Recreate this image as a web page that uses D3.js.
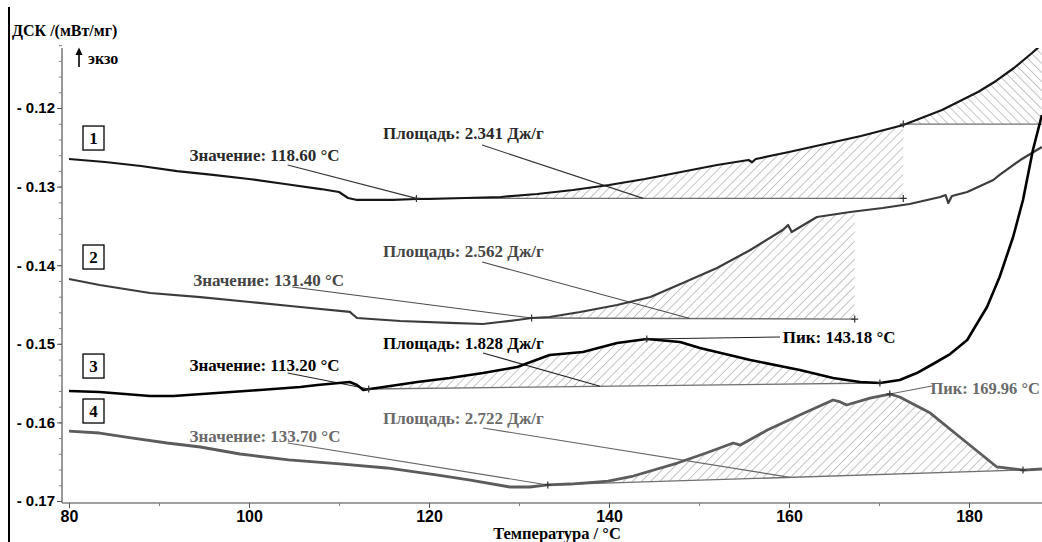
<!DOCTYPE html>
<html>
<head>
<meta charset="utf-8">
<script src="https://cdn.jsdelivr.net/npm/d3@7"></script>
<style>
body { margin: 0; background: #fff; }
svg { display: block; font-family: "Liberation Serif", "Times New Roman", serif; font-weight: bold; }
</style>
</head>
<body>
<svg id="chart" width="1042" height="542"></svg>
<script>
// ---- data (temperature °C, DSC mW/mg) ----
var curve1 = [[80,-0.12649],[84,-0.12687],[88,-0.12738],[92,-0.12802],[96,-0.12852],[100,-0.12903],
  [104,-0.12967],[108,-0.13031],[110,-0.13069],[111,-0.13145],[112,-0.13170],[116,-0.13170],
  [118.6,-0.13158],[120,-0.13158],[124,-0.13145],[128,-0.13132],[132,-0.13094],[136,-0.13043],
  [140,-0.12980],[144,-0.12903],[148,-0.12814],[152,-0.12725],[155.5,-0.12662],[155.9,-0.12690],
  [156.3,-0.12649],[160,-0.12560],[164,-0.12458],[168,-0.12356],[171,-0.12267],[172.7,-0.12216],
  [175,-0.12115],[177,-0.12025],[179,-0.11911],[181,-0.11796],[183,-0.11656],[185,-0.11491],
  [187,-0.11300],[188.1,-0.11190]];

var curve2 = [[80,-0.14176],[83.4,-0.14252],[89,-0.14354],[94.6,-0.14405],[100.1,-0.14468],
  [105.7,-0.14532],[111.2,-0.14595],[112,-0.14672],[116.8,-0.14710],[122.3,-0.14735],
  [126,-0.14748],[127.9,-0.14723],[129.8,-0.14697],[131.4,-0.14672],[133.4,-0.14659],
  [136.8,-0.14595],[140.9,-0.14506],[144.6,-0.14405],[148.2,-0.14227],[152,-0.14036],
  [155.7,-0.13807],[159.3,-0.13552],[159.9,-0.13489],[160.3,-0.13578],[163.1,-0.13387],
  [166.8,-0.13323],[170.4,-0.13272],[173.4,-0.13221],[176.8,-0.13132],[177.4,-0.13107],
  [177.7,-0.13209],[178.1,-0.13120],[179.8,-0.13069],[182.7,-0.12916],[183.4,-0.12852],
  [185.7,-0.12662],[188.1,-0.12496]];

var curve3 = [[80,-0.15601],[83.4,-0.15613],[89,-0.15664],[91.6,-0.15664],[96.4,-0.15626],
  [101.2,-0.15588],[105.7,-0.15550],[107.6,-0.15524],[111.2,-0.15486],[112,-0.15524],
  [112.7,-0.15588],[113.4,-0.15575],[114.2,-0.15562],[118.7,-0.15486],[122.3,-0.15435],
  [126,-0.15372],[129.8,-0.15295],[133.4,-0.15142],[137.1,-0.15104],[140.9,-0.14990],
  [144.2,-0.14939],[147.9,-0.14977],[150.1,-0.15053],[155.7,-0.15206],[161.2,-0.15333],
  [164.9,-0.15435],[167.9,-0.15486],[170.1,-0.15499],[172.3,-0.15461],[174.2,-0.15372],
  [176,-0.15257],[177.9,-0.15130],[179.8,-0.14952],[182,-0.14532],[183.4,-0.14150],
  [184.9,-0.13641],[186,-0.13170],[187.1,-0.12534],[188.1,-0.12089]];

var curve4 = [[80,-0.16110],[83.4,-0.16135],[87.1,-0.16199],[90.9,-0.16262],[94.6,-0.16313],
  [99,-0.16402],[104.4,-0.16478],[110.1,-0.16529],[115.3,-0.16580],[120.8,-0.16669],
  [124.6,-0.16733],[129,-0.16822],[131.2,-0.16822],[133.2,-0.16796],[135.7,-0.16784],
  [139.9,-0.16746],[142.7,-0.16682],[147.6,-0.16517],[150.8,-0.16389],[153.8,-0.16262],
  [154.6,-0.16288],[157.6,-0.16097],[161.2,-0.15906],[164.9,-0.15715],[165.7,-0.15740],
  [166.4,-0.15779],[169,-0.15690],[171.2,-0.15639],[172.3,-0.15677],[174,-0.15779],
  [175.7,-0.15881],[179.8,-0.16262],[183.1,-0.16567],[186,-0.16606],[188.1,-0.16593]];

// integration baselines: [start T, start value, end T, end value]
var base1  = [118.6, -0.13150, 172.7, -0.13150];
var base1b = [172.7, -0.12204, 188.1, -0.12204];
var base2  = [131.4, -0.14672, 167.3, -0.14685];
var base3  = [113.3, -0.15575, 170.1, -0.15499];
var base4  = [133.2, -0.16796, 186.0, -0.16606];

var peaks = [[144.2, -0.14939], [171.2, -0.15639]];

var curveNames = ["1", "2", "3", "4"];
var valueLabels = ["Значение: 118.60 °C", "Значение: 131.40 °C", "Значение: 113.20 °C", "Значение: 133.70 °C"];
var areaLabels = ["Площадь: 2.341 Дж/г", "Площадь: 2.562 Дж/г", "Площадь: 1.828 Дж/г", "Площадь: 2.722 Дж/г"];
var peakLabels = ["Пик: 143.18 °C", "Пик: 169.96 °C"];

var xTicks = [80, 100, 120, 140, 160, 180];
var xMinor = [90, 110, 130, 150, 170];
var yTicks = [-0.12, -0.13, -0.14, -0.15, -0.16, -0.17];

// ---- drawing ----
var svg = d3.select("#chart");
var x = d3.scaleLinear().domain([80, 180]).range([69, 969]);
var y = d3.scaleLinear().domain([-0.17, -0.12]).range([501, 108]);

var plotL = 62, plotR = 1042, plotT = 48, plotB = 503;

var defs = svg.append("defs");
defs.append("clipPath").attr("id", "plot")
  .append("rect").attr("x", plotL).attr("y", plotT).attr("width", plotR - plotL).attr("height", plotB - plotT);

function hatch(id, angle) {
  var p = defs.append("pattern").attr("id", id)
    .attr("patternUnits", "userSpaceOnUse")
    .attr("width", 6.4).attr("height", 10)
    .attr("patternTransform", "rotate(" + angle + ")");
  p.append("line").attr("x1", 0).attr("y1", 0).attr("x2", 0).attr("y2", 10)
    .attr("stroke", "#959595").attr("stroke-width", 1.1);
}
hatch("fwd", 45);
hatch("back", -45);

// left frame line
svg.append("line").attr("x1", 9).attr("x2", 9).attr("y1", 7).attr("y2", 542)
  .attr("stroke", "#000").attr("stroke-width", 2);

var plot = svg.append("g").attr("clip-path", "url(#plot)");

function hatchArea(curve, b, pat, k) {
  var pts = curve.filter(function (d, i) {
    var next = curve[i + 1] ? curve[i + 1][0] : Infinity;
    var prev = curve[i - 1] ? curve[i - 1][0] : -Infinity;
    return next >= b[0] && prev <= b[2];
  });
  pts = pts.concat([[b[2], b[3]], [b[0], b[1]]]);
  defs.append("clipPath").attr("id", "hc" + k)
    .append("rect").attr("x", x(b[0])).attr("y", 0).attr("width", x(b[2]) - x(b[0])).attr("height", 542);
  plot.append("g").attr("clip-path", "url(#hc" + k + ")")
    .append("path")
    .attr("d", "M" + pts.map(function (d) { return x(d[0]) + "," + y(d[1]); }).join("L") + "Z")
    .attr("fill", "url(#" + pat + ")");
}
hatchArea(curve1, base1, "fwd", 1);
hatchArea(curve1, base1b, "back", 2);
hatchArea(curve2, base2, "fwd", 3);
hatchArea(curve3, base3, "fwd", 4);
hatchArea(curve4, base4, "fwd", 5);

// baselines
[base1, base1b, base2, base3, base4].forEach(function (b) {
  plot.append("line")
    .attr("x1", x(b[0])).attr("y1", y(b[1])).attr("x2", x(b[2])).attr("y2", y(b[3]))
    .attr("stroke", "#707070").attr("stroke-width", 1.3);
});

// leader lines: [fromT, fromV, toT, toV, colour]
var leaders = [
  [104.3, -0.12725, base1[0], base1[1], "#333"],
  [125.9, -0.12471, 143.8, base1[1], "#333"],
  [104.8, -0.14277, base2[0], base2[1], "#4a4a4a"],
  [125.9, -0.13959, 149.0, -0.14678, "#4a4a4a"],
  [104.3, -0.15372, base3[0], base3[1], "#222"],
  [126.0, -0.15117, 139.0, -0.15540, "#222"],
  [104.3, -0.16262, base4[0], base4[1], "#666"],
  [126.0, -0.16071, 160.1, -0.16699, "#666"],
  [peaks[0][0], peaks[0][1], 159.0, -0.14913, "#222"],
  [peaks[1][0], peaks[1][1], 175.9, -0.15537, "#666"]
];
leaders.forEach(function (l) {
  plot.append("line")
    .attr("x1", x(l[0])).attr("y1", y(l[1])).attr("x2", x(l[2])).attr("y2", y(l[3]))
    .attr("stroke", l[4]).attr("stroke-width", 1.1);
});

// curves
var line = d3.line().x(function (d) { return x(d[0]); }).y(function (d) { return y(d[1]); });
var curveStyle = [["#161616", 2.2], ["#3c3c3c", 2.2], ["#000", 2.6], ["#5c5c5c", 2.8]];
[curve1, curve2, curve3, curve4].forEach(function (c, i) {
  plot.append("path").datum(c).attr("d", line)
    .attr("fill", "none").attr("stroke", curveStyle[i][0]).attr("stroke-width", curveStyle[i][1])
    .attr("stroke-linejoin", "round");
});

// markers
var marks = [[base1[0], base1[1]], [base1[2], base1[3]], [base1b[0], base1b[1]],
  [base2[0], base2[1]], [base2[2], base2[3]], [base3[0], base3[1]], [base3[2], base3[3]],
  [base4[0], base4[1]], [base4[2], base4[3]], peaks[0], peaks[1]];
plot.selectAll("path.mark").data(marks).enter().append("path")
  .attr("class", "mark")
  .attr("transform", function (d) { return "translate(" + x(d[0]) + "," + y(d[1]) + ")"; })
  .attr("d", "M-3.5,0H3.5M0,-3.5V3.5")
  .attr("stroke", "#333").attr("stroke-width", 1.2);

// annotation texts
var txtColour = ["#2a2a2a", "#454545", "#000", "#6a6a6a"];
var valuePos = [[93.4, -0.12598], [93.8, -0.14188], [93.4, -0.15270], [93.4, -0.16173]];
var areaPos = [[114.9, -0.12318], [114.9, -0.13819], [114.9, -0.14990], [114.9, -0.15944]];
valueLabels.forEach(function (t, i) {
  svg.append("text").attr("x", x(valuePos[i][0])).attr("y", y(valuePos[i][1])).attr("dy", "0.35em")
    .attr("font-size", 17).attr("fill", txtColour[i]).text(t);
  svg.append("text").attr("x", x(areaPos[i][0])).attr("y", y(areaPos[i][1])).attr("dy", "0.35em")
    .attr("font-size", 17).attr("fill", txtColour[i]).text(areaLabels[i]);
});
svg.append("text").attr("x", x(159.3)).attr("y", y(-0.14913)).attr("dy", "0.35em")
  .attr("font-size", 17).attr("fill", "#000").text(peakLabels[0]);
svg.append("text").attr("x", plotR - 2).attr("y", y(-0.15562)).attr("dy", "0.35em")
  .attr("text-anchor", "end").attr("font-size", 16.5).attr("fill", "#6a6a6a").text(peakLabels[1]);

// numbered boxes
var boxPos = [-0.12382, -0.13896, -0.15283, -0.15855];
curveNames.forEach(function (n, i) {
  var cy = y(boxPos[i]);
  svg.append("rect").attr("x", 83).attr("y", cy - 12).attr("width", 21).attr("height", 24)
    .attr("fill", "#fff").attr("stroke", "#000").attr("stroke-width", 1.3);
  svg.append("text").attr("x", 93.5).attr("y", cy).attr("dy", "0.36em")
    .attr("text-anchor", "middle").attr("font-size", 17).text(n);
});

// axes
svg.append("line").attr("x1", plotL).attr("x2", plotL).attr("y1", plotT).attr("y2", plotB)
  .attr("stroke", "#808080").attr("stroke-width", 1.6);
svg.append("line").attr("x1", plotL).attr("x2", plotR).attr("y1", plotB).attr("y2", plotB)
  .attr("stroke", "#808080").attr("stroke-width", 1.6);

var yMinor = d3.range(-0.112, -0.1701, -0.002);
svg.append("g").attr("transform", "translate(" + plotL + ",0)")
  .call(d3.axisLeft(y).tickValues(yMinor).tickSize(3).tickFormat(""))
  .call(function (g) { g.select(".domain").remove(); g.selectAll("line").attr("stroke", "#808080"); });
svg.append("g").attr("transform", "translate(" + plotL + ",0)")
  .call(d3.axisLeft(y).tickValues(yTicks).tickSize(5).tickPadding(2)
    .tickFormat(function (d) { return "- " + (-d).toFixed(2); }))
  .call(function (g) {
    g.select(".domain").remove();
    g.selectAll("line").attr("stroke", "#555");
    g.selectAll("text").attr("font-size", 15).attr("font-family", null).attr("fill", "#000");
  });

svg.append("g").attr("transform", "translate(0," + plotB + ")")
  .call(d3.axisBottom(x).tickValues(xMinor).tickSize(3).tickFormat(""))
  .call(function (g) { g.select(".domain").remove(); g.selectAll("line").attr("stroke", "#808080"); });
svg.append("g").attr("transform", "translate(0," + plotB + ")")
  .call(d3.axisBottom(x).tickValues(xTicks).tickSize(5).tickPadding(3).tickFormat(d3.format("d")))
  .call(function (g) {
    g.select(".domain").remove();
    g.selectAll("line").attr("stroke", "#555");
    g.selectAll("text").attr("font-size", 16).attr("font-family", null).attr("fill", "#000");
  });

// titles
svg.append("text").attr("x", 12).attr("y", 36).attr("font-size", 16).text("ДСК /(мВт/мг)");
svg.append("text").attr("x", 557).attr("y", 539).attr("text-anchor", "middle")
  .attr("font-size", 16.5).text("Температура / °C");
svg.append("line").attr("x1", 79).attr("x2", 79).attr("y1", 67).attr("y2", 53)
  .attr("stroke", "#000").attr("stroke-width", 1.6);
svg.append("path").attr("d", "M75.5,55 L79,47.5 L82.5,55 Z").attr("fill", "#000");
svg.append("text").attr("x", 88).attr("y", 64).attr("font-size", 16).text("экзо");
</script>
</body>
</html>
